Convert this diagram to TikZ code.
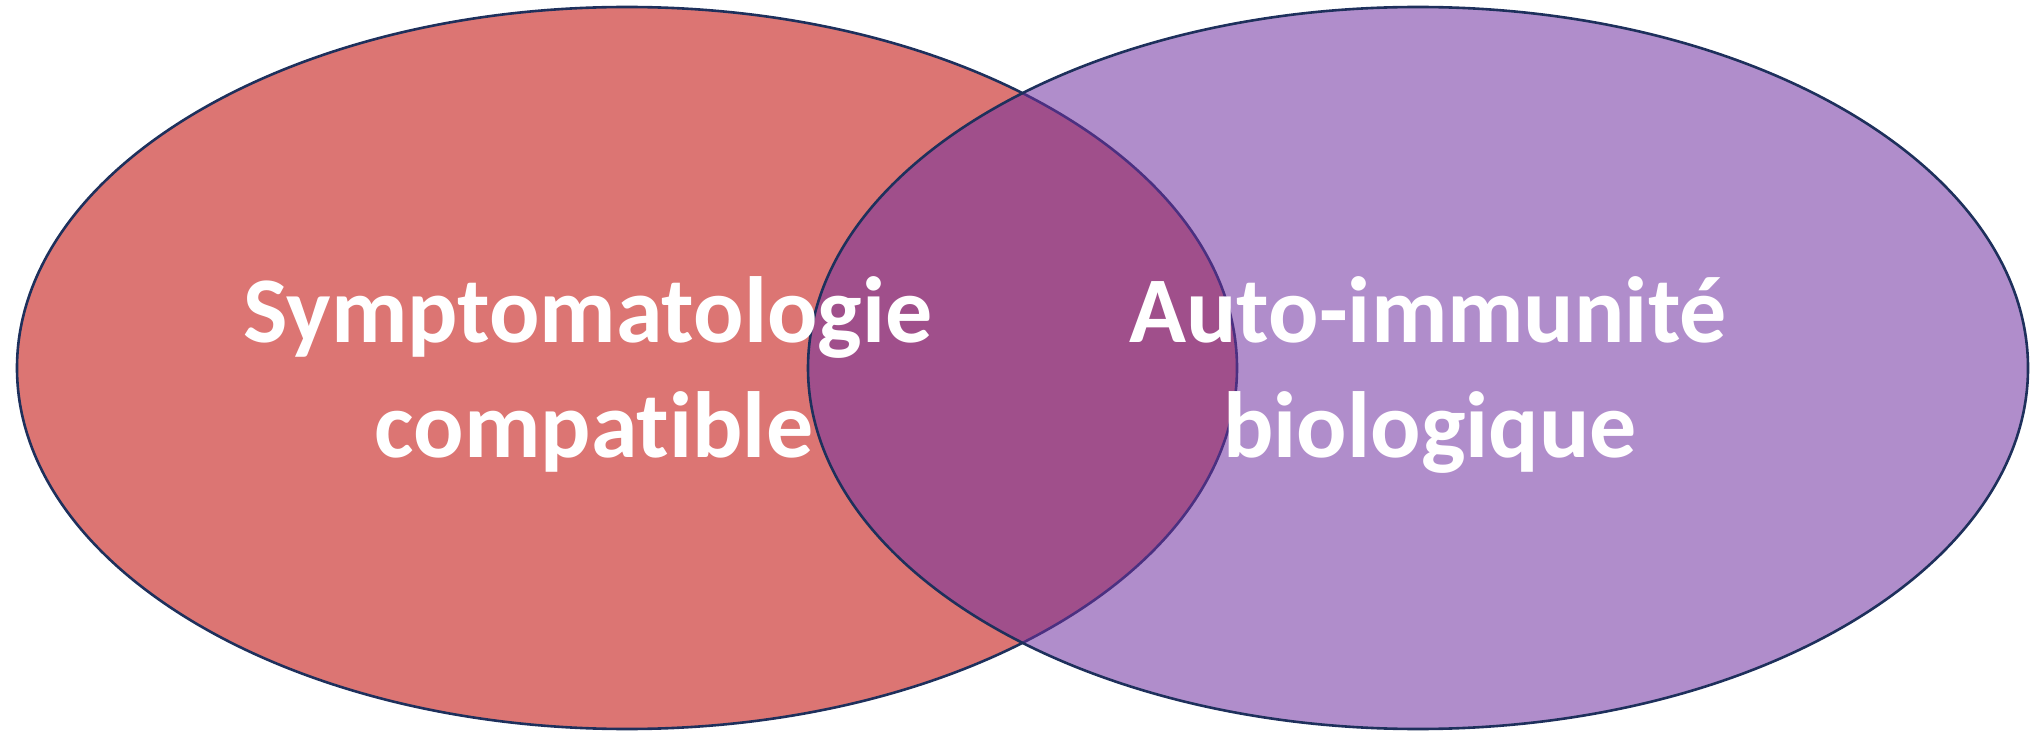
\documentclass[tikz,border=0pt]{standalone}
\usepackage{fontspec}
\setmainfont{Carlito}[Ligatures={NoCommon,NoContextual}]
\definecolor{redfill}{RGB}{220,117,115}
\definecolor{purplefill}{RGB}{112,48,160}
\definecolor{edgenavy}{RGB}{30,48,92}
\tikzset{
  setellipse/.style={draw=edgenavy, line width=1.3pt},
  setlabel/.style={text=white, font=\fontsize{47}{57}\selectfont\bfseries, anchor=base, inner sep=0pt}
}
\begin{document}
\begin{tikzpicture}[x=0.5pt,y=-0.5pt]
\useasboundingbox (0,0) rectangle (2039,732);
\path[setellipse, fill=redfill] (627,368) ellipse [x radius=610, y radius=361];
\path[setellipse, fill=purplefill, fill opacity=0.55] (1418,368) ellipse [x radius=610, y radius=361];
\node[setlabel] (l1) at (588,343) {Symptomatologie};
\node[setlabel] (l2) at (594,458) {compatible};
\node[setlabel] (r1) at (1428,343) {Auto-immunité};
\node[setlabel] (r2) at (1430,458) {biologique};
\end{tikzpicture}
\end{document}
